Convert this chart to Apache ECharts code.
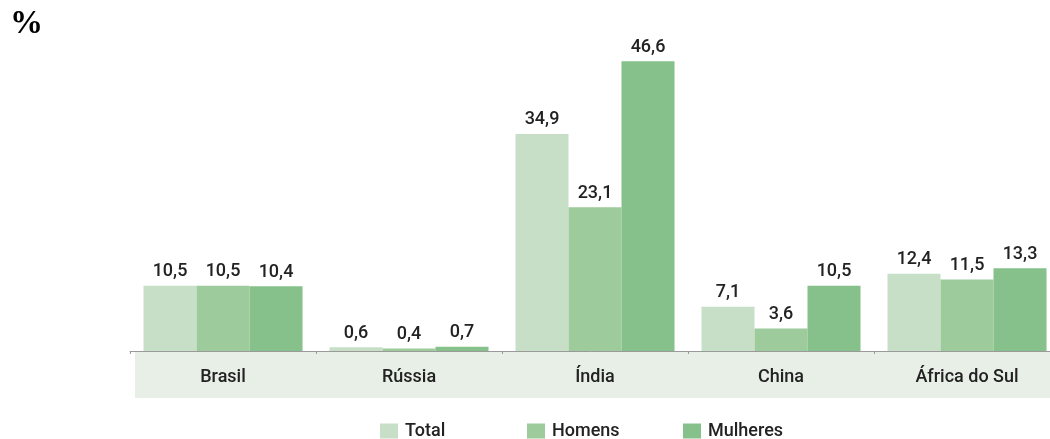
<!DOCTYPE html>
<html>
<head>
<meta charset="utf-8">
<script src="https://cdn.jsdelivr.net/npm/echarts@6/dist/echarts.min.js"></script>
<style>html,body{margin:0;padding:0;background:#fff}#c{width:1050px;height:439px}</style>
</head>
<body>
<div id="c"></div>
<script>
const categories = ['Brasil', 'Rússia', 'Índia', 'China', 'África do Sul'];
const seriesNames = ['Total', 'Homens', 'Mulheres'];
const totalValues = [10.5, 0.6, 34.9, 7.1, 12.4];
const homensValues = [10.5, 0.4, 23.1, 3.6, 11.5];
const mulheresValues = [10.4, 0.7, 46.6, 10.5, 13.3];
const unitLabel = '%';

const colors = ['#c6dfc6', '#9dcb9b', '#86c08a'];
const fontFam = 'Roboto, "Liberation Sans", Arial, sans-serif';
const fmt = p => String(p.value).replace('.', ',');

function mkSeries(name, data, color) {
  return {
    name, type: 'bar', data, barWidth: 53, barGap: '0%',
    itemStyle: { color },
    label: { show: true, position: 'top', distance: 5, formatter: fmt,
      color: '#222', fontSize: 18, fontWeight: 500, fontFamily: fontFam },
    emphasis: { disabled: true }
  };
}

const legendText = { fontSize: 18, fontWeight: 500, color: '#222', fontFamily: fontFam, padding: [0, 0, 0, 2] };

const chart = echarts.init(document.getElementById('c'), null, { renderer: 'canvas' });
chart.setOption({
  animation: false,
  backgroundColor: '#fff',
  title: { text: unitLabel, left: 10, top: 8, padding: 0,
    textStyle: { fontFamily: '"Liberation Serif", "Times New Roman", serif', fontWeight: 'bold', fontSize: 33, color: '#000' } },
  graphic: [{ type: 'rect', z: -1, shape: { x: 135, y: 351, width: 915, height: 47 }, style: { fill: '#e8efe6' } }],
  grid: { left: 130, top: 40, width: 930, height: 311, containLabel: false, outerBoundsMode: 'none' },
  legend: [
    { data: [seriesNames[0]], left: 380, top: 422, itemWidth: 18, itemHeight: 15, itemGap: 0,
      textStyle: legendText, icon: 'rect', padding: 0 },
    { data: [seriesNames[1]], left: 527, top: 422, itemWidth: 18, itemHeight: 15, itemGap: 0,
      textStyle: legendText, icon: 'rect', padding: 0 },
    { data: [seriesNames[2]], left: 683, top: 422, itemWidth: 18, itemHeight: 15, itemGap: 0,
      textStyle: legendText, icon: 'rect', padding: 0 }
  ],
  xAxis: {
    type: 'category', data: categories,
    axisLine: { show: true, lineStyle: { color: '#9a9a9a', width: 1 } },
    axisTick: { show: true, length: 3, lineStyle: { color: '#9a9a9a' } },
    axisLabel: { color: '#222', fontSize: 18, fontWeight: 500, fontFamily: fontFam, margin: 17 }
  },
  yAxis: {
    type: 'value', min: 0, max: 50, interval: 10, show: false,
    splitLine: { show: false }
  },
  series: [
    mkSeries(seriesNames[0], totalValues, colors[0]),
    mkSeries(seriesNames[1], homensValues, colors[1]),
    mkSeries(seriesNames[2], mulheresValues, colors[2])
  ]
});
</script>
</body>
</html>
